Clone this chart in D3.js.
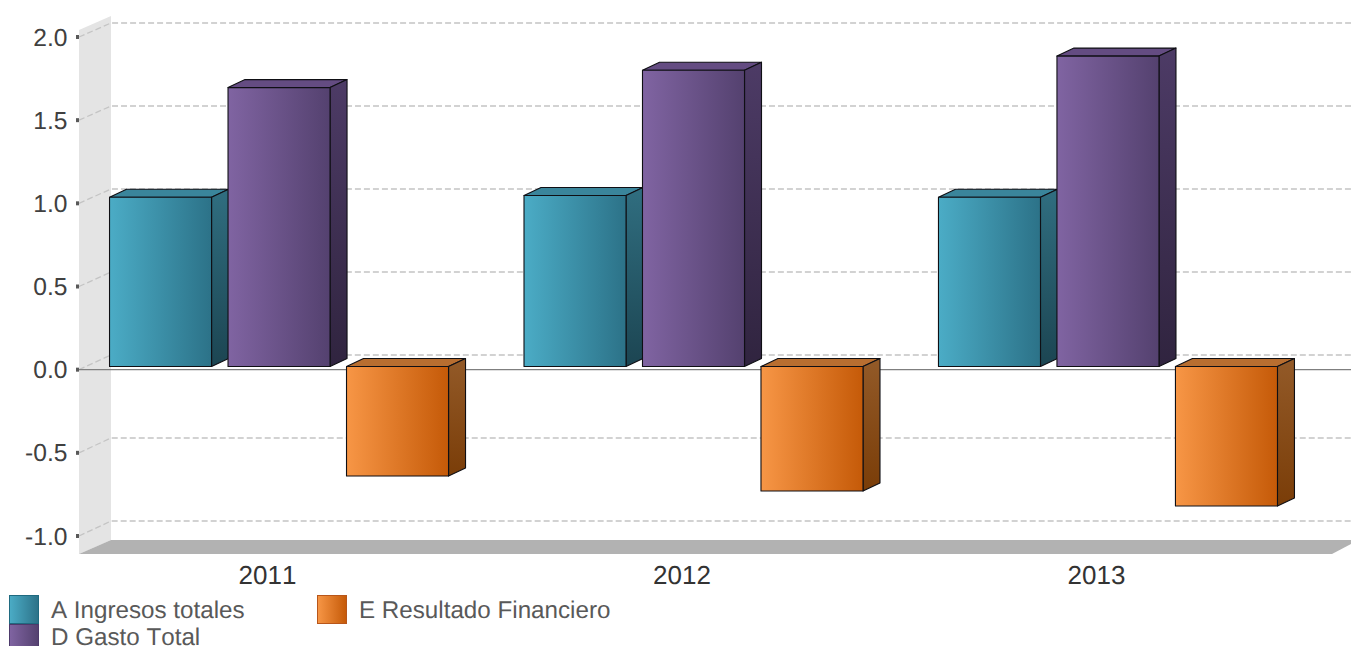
<!DOCTYPE html>
<html><head><meta charset="utf-8">
<script src="https://cdn.jsdelivr.net/npm/d3@7"></script>
<style>html,body{margin:0;padding:0;background:#fff;overflow:hidden}svg{display:block}text{font-family:"Liberation Sans",Arial,sans-serif;font-kerning:none;text-rendering:geometricPrecision}</style>
</head><body><div id="chart"></div>
<script>
const years = ["2011","2012","2013"];
const seriesNames = ["A Ingresos totales","D Gasto Total","E Resultado Financiero"];
const ingresos = [1.02,1.03,1.02];
const gasto = [1.68,1.785,1.87];
const resultado = [-0.66,-0.75,-0.84];
const yTicks = [-1,-0.5,0,0.5,1,1.5,2];
const yTickLabels = ["-1.0","-0.5","0.0","0.5","1.0","1.5","2.0"];
const faceFrom = ["#4bacc6","#8064a2","#f79646"];
const faceTo = ["#2c7288","#54416f","#c55a08"];
const topFill = ["#3a859b","#644c82","#b86e30"];
const sideFrom = ["#306e80","#4d3b66","#935a28"];
const sideTo = ["#1c4552","#30243f","#7a3d08"];
const W=1351,H=646;
const values=[ingresos,gasto,resultado];
const svg=d3.select("#chart").append("svg").attr("width",W).attr("height",H);
const defs=svg.append("defs");
function grad(id,a,b,vertical){const g=defs.append("linearGradient").attr("id",id).attr("x1",0).attr("y1",0).attr("x2",vertical?0:1).attr("y2",vertical?1:0);
 g.append("stop").attr("offset",0).attr("stop-color",a);g.append("stop").attr("offset",1).attr("stop-color",b);}
seriesNames.forEach((_,i)=>{grad("f"+i,faceFrom[i],faceTo[i],false);grad("s"+i,sideFrom[i],sideTo[i],true);});

// scales
const yAxisS=d3.scaleLinear().domain([-1,2]).range([536,37]);     // front of the wall
const yBack=d3.scaleLinear().domain([-1,2]).range([521,23]);      // back of the wall
const yBar=d3.scaleLinear().domain([0,1]).range([366.5,200.5]);   // bars, mid depth
const xBand=d3.scaleBand().domain(years).range([71.8,1315.2]);
const groupW=339;
const xBar=d3.scaleBand().domain([0,1,2]).range([0,groupW]).paddingInner(0.139).paddingOuter(0);
const wallL=79,wallR=111,right=1351,depthX=17,depthY=8;

// wall & floor
svg.append("path").attr("fill","#e4e4e4").attr("d",`M${wallL},30L${wallR},16L${wallR},540L${wallL},554Z`);
svg.append("path").attr("fill","#b2b2b2").attr("d",`M${wallL},554L${wallR},540L${right},540L${right},544L1332,554Z`);

// grid
const grid=svg.append("g").attr("fill","none").attr("stroke","#c4c4c4").attr("stroke-width",1.3).attr("stroke-dasharray","6,3");
yTicks.forEach(t=>{
 grid.append("path").attr("d",`M${wallL},${yAxisS(t)}L${wallR},${yBack(t)}L${right},${yBack(t)}`);
});
// zero line
svg.append("line").attr("x1",wallL).attr("x2",right).attr("y1",yAxisS(0)).attr("y2",yAxisS(0)).attr("stroke","#7f7f7f").attr("stroke-width",1.2);

// y axis ticks + labels
const ya=svg.append("g");
yTicks.forEach((t,i)=>{
 ya.append("rect").attr("x",76).attr("y",yAxisS(t)-2).attr("width",3).attr("height",4).attr("fill","#595959");
 ya.append("text").attr("x",67.5).attr("y",yAxisS(t)+8.5).attr("text-anchor","end").attr("font-size",24.6).attr("fill","#404040").text(yTickLabels[i]);
});

// bars
years.forEach((yr,c)=>{
 const x0=xBand(yr)+(xBand.bandwidth()-groupW)/2;
 seriesNames.forEach((_,s)=>{
  const v=values[s][c];
  const x=x0+xBar(s),w=xBar.bandwidth();
  const yT=Math.min(yBar(v),yBar(0)),yB=Math.max(yBar(v),yBar(0));
  const g=svg.append("g").attr("stroke","#0f0f14").attr("stroke-width",1.1).attr("stroke-linejoin","round");
  g.append("path").attr("fill",topFill[s]).attr("d",`M${x},${yT}L${x+depthX},${yT-depthY}L${x+w+depthX},${yT-depthY}L${x+w},${yT}Z`);
  g.append("path").attr("fill",`url(#s${s})`).attr("d",`M${x+w},${yT}L${x+w+depthX},${yT-depthY}L${x+w+depthX},${yB-depthY}L${x+w},${yB}Z`);
  g.append("rect").attr("x",x).attr("y",yT).attr("width",w).attr("height",yB-yT).attr("fill",`url(#f${s})`);
 });
 svg.append("text").attr("x",xBand(yr)+xBand.bandwidth()/2-11.5).attr("y",584).attr("text-anchor","middle").attr("font-size",26).attr("fill","#333").text(yr);
});

// legend
const legendSwatch=[[9,595],[9,624],[317,595]];
const legendBaseline=[618,645,618];
const swatchBorder=["#1f6a80","#4d3a6b","#b8561a"];
seriesNames.forEach((n,i)=>{
 const [lx,ly]=legendSwatch[i];
 svg.append("rect").attr("x",lx+.5).attr("y",ly+.5).attr("width",29).attr("height",28).attr("fill",`url(#f${i})`).attr("stroke",swatchBorder[i]);
 svg.append("text").attr("x",lx+42).attr("y",legendBaseline[i]).attr("font-size",24.2).attr("fill","#595959").text(n);
});
</script></body></html>
